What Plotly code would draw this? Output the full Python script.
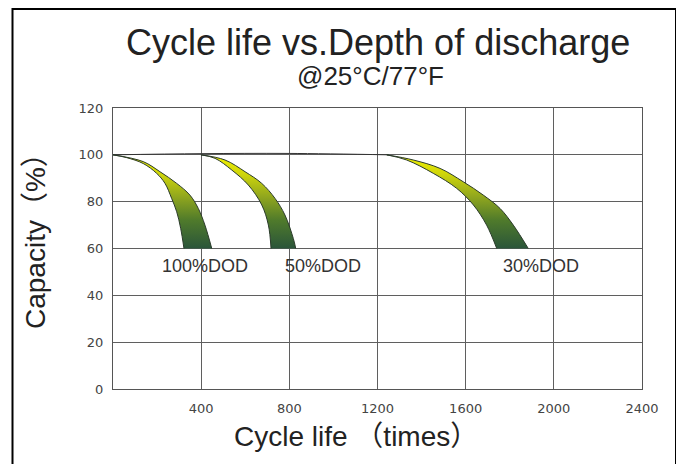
import plotly.graph_objects as go

# ---- data ----
x_ticks = [400, 800, 1200, 1600, 2000, 2400]
y_ticks = [0, 20, 40, 60, 80, 100, 120]

# 100% DOD band
dod100_outer_x = [0, 137, 213, 289, 349, 387, 417, 448]
dod100_outer_y = [100, 97.1, 92.8, 87.8, 82.8, 77.1, 70.0, 60]
dod100_inner_x = [0, 62, 137, 198, 236, 266, 289, 307, 322]
dod100_inner_y = [100, 98.8, 96.3, 92.1, 87.8, 81.4, 75.7, 68.6, 60]

# 50% DOD band
dod50_outer_x = [399, 508, 599, 675, 735, 780, 818, 829]
dod50_outer_y = [100, 97.8, 92.8, 87.8, 81.4, 74.3, 64.3, 60]
dod50_inner_x = [399, 463, 539, 614, 675, 705, 717]
dod50_inner_y = [100, 98.5, 93.5, 87.1, 78.6, 70.0, 60]

# 30% DOD band
dod30_outer_x = [1242, 1362, 1484, 1589, 1680, 1756, 1816, 1884]
dod30_outer_y = [100, 97.8, 94.2, 88.5, 82.8, 77.1, 70.0, 60]
dod30_inner_x = [1242, 1332, 1453, 1559, 1635, 1695, 1741]
dod30_inner_y = [100, 97.8, 92.1, 85.7, 78.6, 70.0, 60]

# initial capacity reference line
ref_x = [0, 400, 800, 1250]
ref_y = [100, 100.5, 100.6, 100]

labels = ["100%DOD", "50%DOD", "30%DOD"]
label_x = [417, 953, 1942]
label_y = [52.5, 52.5, 52.5]

bands = [
    (dod100_outer_x, dod100_outer_y, dod100_inner_x, dod100_inner_y),
    (dod50_outer_x, dod50_outer_y, dod50_inner_x, dod50_inner_y),
    (dod30_outer_x, dod30_outer_y, dod30_inner_x, dod30_inner_y),
]

grad = [[0, "#2a553a"], [0.3, "#4f7a2b"], [0.55, "#90a61e"], [0.8, "#d0d60a"], [1, "#f2f200"]]
edge = dict(color="#2a3a2a", width=1, shape="spline", smoothing=1)

fig = go.Figure()

fig.add_trace(go.Scatter(x=ref_x, y=ref_y, mode="lines", line=dict(color="#333333", width=1, shape="spline"),
                         hoverinfo="skip", showlegend=False))

for ox, oy, ix, iy in bands:
    fig.add_trace(go.Scatter(x=ox, y=oy, mode="lines", line=edge, hoverinfo="skip", showlegend=False))
    fig.add_trace(go.Scatter(x=ix, y=iy, mode="lines", line=edge, fill="tonexty",
                             fillgradient=dict(type="vertical", colorscale=grad,
                                               start=min(iy), stop=max(iy)),
                             hoverinfo="skip", showlegend=False))

LBL_FONT = dict(family="Liberation Sans, Arial", size=18, color="#333333")
for t, lx, ly in zip(labels, label_x, label_y):
    fig.add_annotation(x=lx, y=ly, text=t, showarrow=False, font=LBL_FONT)

# page body has an 8px margin; work in reference pixel coordinates and shift
OFF = 8
W, H = 684 - OFF, 464 - OFF
L, R, T, B = 113 - OFF, 642 - OFF, 108 - OFF, 389 - OFF
pw, ph = R - L, B - T

def px2paper(px, py):
    return (px - OFF - L) / pw, (B - (py - OFF)) / ph

TXT = "Liberation Sans, Arial, Noto Sans CJK SC"
for text, cx, cy, size in [
    ("Cycle life vs.Depth of discharge", 378, 42, 36),
    ("@25°C/77°F", 370, 76, 26),
    ("Cycle life （times）", 356, 437, 28),
]:
    xx, yy = px2paper(cx, cy)
    fig.add_annotation(xref="paper", yref="paper", x=xx, y=yy, text=text, showarrow=False,
                       xanchor="center", yanchor="middle",
                       font=dict(family=TXT, size=size, color="#222222"))

xx, yy = px2paper(35, 234)
fig.add_annotation(xref="paper", yref="paper", x=xx, y=yy, text="Capacity（%）", showarrow=False,
                   textangle=-90, xanchor="center", yanchor="middle",
                   font=dict(family=TXT, size=28, color="#222222"))

# outer border
x0, y0 = px2paper(12.5, 475)
x1, y1 = px2paper(676, 9)
fig.add_shape(type="rect", xref="paper", yref="paper", x0=x0, y0=y0, x1=x1, y1=y1,
              line=dict(color="black", width=2), layer="above")

tickfont = dict(family="DejaVu Sans", size=13, color="#444444")
fig.update_xaxes(range=[0, 2400], tickvals=x_ticks, ticktext=[str(v) for v in x_ticks],
                 showgrid=True, gridcolor="#5f5f5f", gridwidth=1.3,
                 showline=True, linecolor="#555555", linewidth=1.3, mirror=True,
                 zeroline=False, ticks="", ticklabelstandoff=7, tickfont=tickfont, fixedrange=True)
fig.update_yaxes(range=[0, 120], tickvals=y_ticks, ticktext=[str(v) for v in y_ticks],
                 showgrid=True, gridcolor="#5f5f5f", gridwidth=1.3,
                 showline=True, linecolor="#555555", linewidth=1.3, mirror=True,
                 zeroline=False, ticks="", ticklabelstandoff=6, tickfont=tickfont, fixedrange=True)

fig.update_layout(width=W, height=H, margin=dict(l=L, r=W - R, t=T, b=H - B),
                  plot_bgcolor="white", paper_bgcolor="white", showlegend=False)

fig.write_html("out.html")
